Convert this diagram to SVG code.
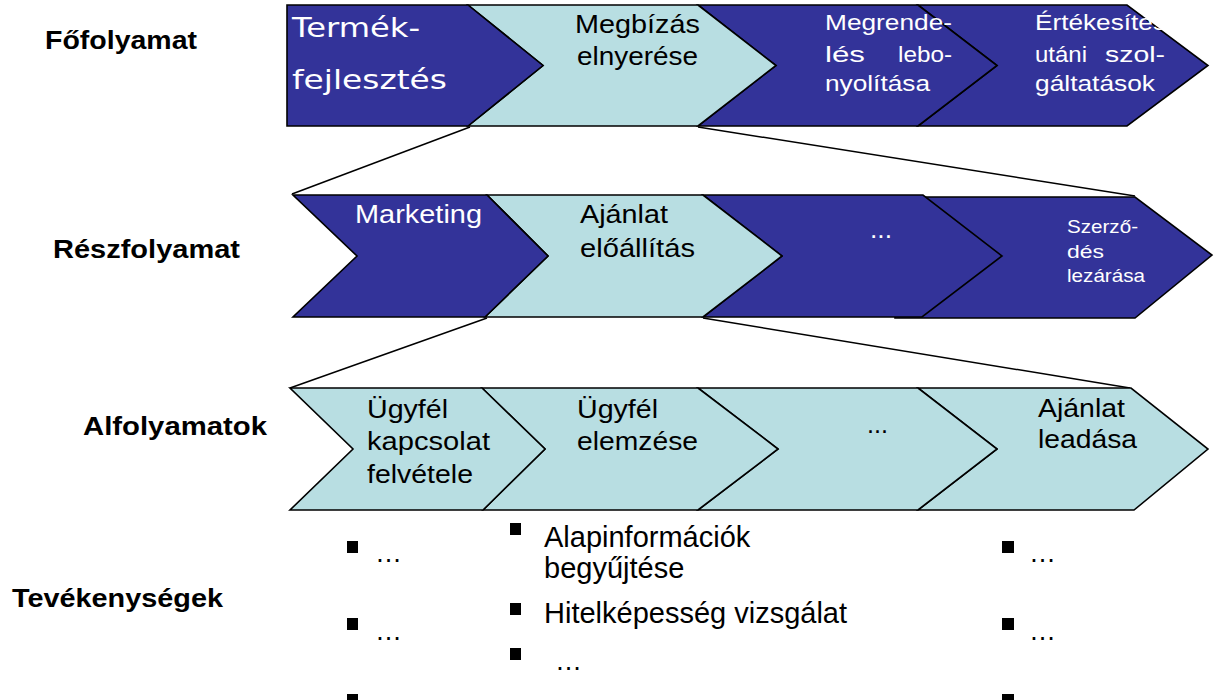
<svg xmlns="http://www.w3.org/2000/svg" width="1219" height="700" viewBox="0 0 1219 700">
<style>
.dk{fill:#333399;stroke:#000;stroke-width:1.6;stroke-linejoin:miter}
.lt{fill:#B8DEE2;stroke:#000;stroke-width:1.6;stroke-linejoin:miter}
.conn{stroke:#000;stroke-width:1.5;fill:none}
.w{fill:#fff;font-family:"Liberation Sans",Arial,sans-serif}
.b{fill:#000;font-family:"Liberation Sans",Arial,sans-serif}
.lbl{fill:#000;font-family:"Liberation Sans",Arial,sans-serif;font-weight:bold;font-size:26px}
.hand{fill:#fff;font-family:"DejaVu Sans",sans-serif;font-size:27px}
.bul{fill:#000}
</style>
<rect width="1219" height="700" fill="#fff"/>
<g id="connectors">
<line class="conn" x1="470" y1="127" x2="292" y2="194"/>
<line class="conn" x1="698" y1="127" x2="1135" y2="196"/>
<line class="conn" x1="487" y1="318" x2="290" y2="388"/>
<line class="conn" x1="703" y1="318" x2="1130" y2="388"/>
</g>
<g id="labels">
<text class="lbl" x="45" y="49" textLength="152" lengthAdjust="spacingAndGlyphs">Főfolyamat</text>
<text class="lbl" x="53" y="258" textLength="187" lengthAdjust="spacingAndGlyphs">Részfolyamat</text>
<text class="lbl" x="83" y="435" textLength="184" lengthAdjust="spacingAndGlyphs">Alfolyamatok</text>
<text class="lbl" x="12" y="607" textLength="211" lengthAdjust="spacingAndGlyphs">Tevékenységek</text>
</g>
<g id="top4">
<polygon class="dk" points="918,5 1127,5 1208,65.5 1127,126 918,126 997,65.5"/>
<g class="w" font-size="22">
<text x="1035" y="30" textLength="131" lengthAdjust="spacingAndGlyphs">Értékesítés</text>
<text x="1035" y="62" textLength="52" lengthAdjust="spacingAndGlyphs">utáni</text>
<text x="1105" y="62" textLength="60" lengthAdjust="spacingAndGlyphs">szol-</text>
<text x="1035" y="91" textLength="120" lengthAdjust="spacingAndGlyphs">gáltatások</text>
</g>
</g>
<g id="top3">
<polygon class="dk" points="698,5 918,5 997,65.5 918,126 698,126 776,65.5"/>
<g class="w" font-size="22">
<text x="825" y="30" textLength="127" lengthAdjust="spacingAndGlyphs">Megrende-</text>
<text x="825" y="62" textLength="40" lengthAdjust="spacingAndGlyphs">lés</text>
<text x="898" y="62" textLength="54" lengthAdjust="spacingAndGlyphs">lebo-</text>
<text x="825" y="91" textLength="105" lengthAdjust="spacingAndGlyphs">nyolítása</text>
</g>
</g>
<g id="top2">
<polygon class="lt" points="468,5 698,5 776,65.5 698,126 468,126 543,65.5"/>
<g class="b" font-size="26">
<text x="575" y="33" textLength="125" lengthAdjust="spacingAndGlyphs">Megbízás</text>
<text x="577" y="65" textLength="121" lengthAdjust="spacingAndGlyphs">elnyerése</text>
</g>
</g>
<g id="top1">
<polygon class="dk" points="287,5 468,5 543,65.5 468,126 287,126"/>
<text class="hand" x="292" y="37" textLength="128" lengthAdjust="spacingAndGlyphs">Termék-</text>
<text class="hand" x="292" y="89" textLength="155" lengthAdjust="spacingAndGlyphs">fejlesztés</text>
</g>
<g id="mid4">
<polygon class="dk" points="895,197 1135,197 1212,255 1135,318 895,318"/>
<g class="w" font-size="18.5">
<text x="1067" y="233" textLength="71" lengthAdjust="spacingAndGlyphs">Szerző-</text>
<text x="1067" y="258" textLength="37" lengthAdjust="spacingAndGlyphs">dés</text>
<text x="1067" y="282" textLength="78" lengthAdjust="spacingAndGlyphs">lezárása</text>
</g>
</g>
<g id="mid3">
<polygon class="dk" points="703,195 923,195 1002,256 922,317 703,317 782,256"/>
<text class="w" font-size="25" x="870" y="238" textLength="22" lengthAdjust="spacingAndGlyphs">...</text>
</g>
<g id="mid2">
<polygon class="lt" points="487,195 703,195 782,256 703,317 485,317 548,256"/>
<g class="b" font-size="25.5">
<text x="580" y="223" textLength="88" lengthAdjust="spacingAndGlyphs">Ajánlat</text>
<text x="580" y="257" textLength="115" lengthAdjust="spacingAndGlyphs">előállítás</text>
</g>
</g>
<g id="mid1">
<polygon class="dk" points="293,195 487,195 548,256 485,317 293,317 357,256"/>
<text class="w" font-size="25.5" x="355" y="223" textLength="127" lengthAdjust="spacingAndGlyphs">Marketing</text>
</g>
<g id="bot4">
<polygon class="lt" points="918,388 1131,388 1208,449 1134,510 918,510 997,449"/>
<g class="b" font-size="25.5">
<text x="1038" y="417" textLength="87" lengthAdjust="spacingAndGlyphs">Ajánlat</text>
<text x="1038" y="448" textLength="99" lengthAdjust="spacingAndGlyphs">leadása</text>
</g>
</g>
<g id="bot3">
<polygon class="lt" points="698,388 918,388 997,449 918,510 698,510 778,449"/>
<text class="b" font-size="25" x="867" y="433" textLength="21" lengthAdjust="spacingAndGlyphs">...</text>
</g>
<g id="bot2">
<polygon class="lt" points="482,388 698,388 778,449 698,510 483,510 545,449"/>
<g class="b" font-size="25.5">
<text x="577" y="418" textLength="81" lengthAdjust="spacingAndGlyphs">Ügyfél</text>
<text x="577" y="450" textLength="121" lengthAdjust="spacingAndGlyphs">elemzése</text>
</g>
</g>
<g id="bot1">
<polygon class="lt" points="290,388 482,388 545,449 483,510 290,510 353,449"/>
<g class="b" font-size="25.5">
<text x="367" y="418" textLength="81" lengthAdjust="spacingAndGlyphs">Ügyfél</text>
<text x="367" y="450" textLength="123" lengthAdjust="spacingAndGlyphs">kapcsolat</text>
<text x="367" y="483" textLength="106" lengthAdjust="spacingAndGlyphs">felvétele</text>
</g>
</g>
<g id="act-left">
<rect class="bul" x="347" y="541" width="11" height="12"/>
<text class="b" font-size="27" x="375" y="562">…</text>
<rect class="bul" x="347" y="618" width="11" height="12"/>
<text class="b" font-size="27" x="375" y="640">…</text>
<rect class="bul" x="347" y="694" width="11" height="12"/>
</g>
<g id="act-mid">
<rect class="bul" x="510" y="523" width="11" height="12"/>
<text class="b" font-size="29" x="544" y="547">Alapinformációk</text>
<text class="b" font-size="29" x="544" y="578">begyűjtése</text>
<rect class="bul" x="510" y="603" width="11" height="12"/>
<text class="b" font-size="29" x="544" y="623">Hitelképesség vizsgálat</text>
<rect class="bul" x="510" y="648" width="11" height="12"/>
<text class="b" font-size="27" x="555" y="670">…</text>
</g>
<g id="act-right">
<rect class="bul" x="1002" y="541" width="12" height="12"/>
<text class="b" font-size="27" x="1029" y="562">…</text>
<rect class="bul" x="1002" y="618" width="12" height="12"/>
<text class="b" font-size="27" x="1029" y="640">…</text>
<rect class="bul" x="1002" y="694" width="12" height="12"/>
</g>
</svg>
